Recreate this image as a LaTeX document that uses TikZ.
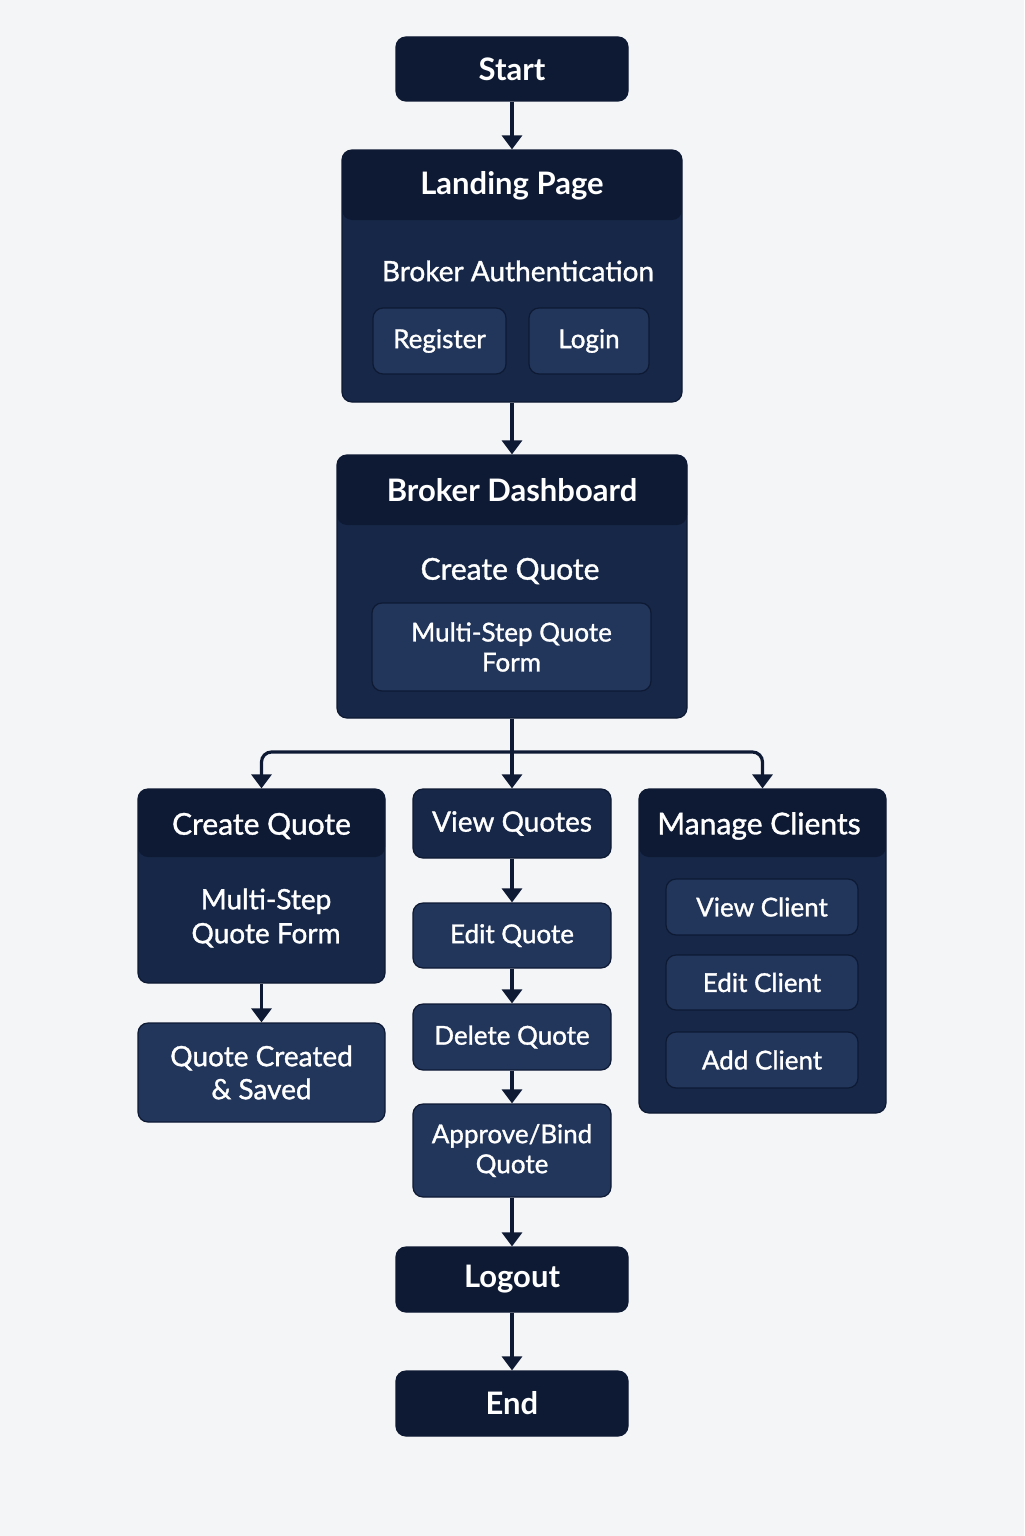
\documentclass[tikz,border=0pt]{standalone}
\usepackage{fontspec}
\setmainfont{Lato}
\newfontfamily\medfont[FakeBold=1.2]{Lato}
\usetikzlibrary{arrows.meta}
\definecolor{bgc}{HTML}{F4F5F7}
\definecolor{darkc}{HTML}{0E1A34}
\definecolor{midc}{HTML}{172747}
\definecolor{lightc}{HTML}{22355A}
\tikzset{
  box/.style={rounded corners=5pt, draw=darkc, line width=0.6pt, text=white, align=center, inner sep=0pt},
  darkbox/.style={box, fill=darkc, font=\fontsize{15.5}{18}\selectfont\bfseries},
  midbox/.style={box, fill=midc, font=\fontsize{14}{16}\selectfont\medfont},
  lightbox/.style={box, fill=lightc, font=\fontsize{13}{15}\selectfont\medfont},
  container/.style={box, fill=midc, path picture={\fill[darkc] (path picture bounding box.north west) rectangle ([yshift=-#1]path picture bounding box.north east);}},
  titletext/.style={text=white, font=\fontsize{15.5}{18}\selectfont\bfseries, inner sep=0pt},
  subtext/.style={text=white, font=\fontsize{14}{17}\selectfont\medfont, inner sep=0pt, align=center},
  arr/.style={draw=darkc, line width=1.6pt, -{Triangle[width=10pt,length=7pt]}},
}
\begin{document}
\begin{tikzpicture}[x=0.5pt,y=-0.5pt]
\fill[bgc] (0,0) rectangle (1024,1536);
\useasboundingbox (0,0) rectangle (1024,1536);

% top
\node[darkbox, minimum width=116pt, minimum height=32pt] (start) at (512,69) {Start};

\node[container=35pt, minimum width=170pt, minimum height=126pt] (landing) at (512,276) {};
\node[titletext] (landingt) at (512,186) {Landing Page};
\node[subtext] (auth) at (518,271) {Broker Authentication};
\node[lightbox, minimum width=66.5pt, minimum height=33pt] (register) at (439.5,341) {Register};
\node[lightbox, minimum width=60pt, minimum height=33pt] (login) at (589,341) {Login};

\node[container=35pt, minimum width=175pt, minimum height=131.5pt] (dash) at (512,586.5) {};
\node[titletext] (dasht) at (512,490) {Broker Dashboard};
\node[subtext, font=\fontsize{15}{18}\selectfont\medfont] (dashcq) at (510,571) {Create Quote};
\node[lightbox, minimum width=139.5pt, minimum height=44pt] (dashform) at (511.5,647) {Multi-Step Quote\\Form};

% left column
\node[container=34pt, minimum width=123.5pt, minimum height=97pt] (cq) at (261.5,886) {};
\node[titletext, font=\fontsize{15}{18}\selectfont\medfont] (cqt) at (261.5,826) {Create Quote};
\node[subtext, font=\fontsize{14}{17}\selectfont\medfont] (cqform) at (266,918) {Multi-Step\\Quote Form};
\node[lightbox, font=\fontsize{14}{16.5}\selectfont\medfont, minimum width=123.5pt, minimum height=49.5pt] (saved) at (261.5,1072.5) {Quote Created\\\& Saved};

% middle column
\node[midbox, minimum width=99pt, minimum height=34.5pt] (vq) at (512,823.5) {View Quotes};
\node[lightbox, minimum width=99pt, minimum height=32.5pt] (eq) at (512,935.5) {Edit Quote};
\node[lightbox, minimum width=99pt, minimum height=33pt] (dq) at (512,1037) {Delete Quote};
\node[lightbox, minimum width=99pt, minimum height=46.5pt] (aq) at (512,1150.5) {Approve/Bind\\Quote};

% right column
\node[container=34pt, minimum width=123.5pt, minimum height=162pt] (mc) at (762.5,951) {};
\node[titletext, font=\fontsize{15}{18}\selectfont\medfont] (mct) at (759,826) {Manage Clients};
\node[lightbox, minimum width=96pt, minimum height=28pt] (vc) at (762,907) {View Client};
\node[lightbox, minimum width=96pt, minimum height=27.5pt] (ec) at (762,982.5) {Edit Client};
\node[lightbox, minimum width=96pt, minimum height=28pt] (ac) at (762,1060) {Add Client};

% bottom
\node[darkbox, minimum width=116pt, minimum height=32.5pt] (logout) at (512,1279.5) {Logout};
\node[darkbox, minimum width=116pt, minimum height=32.5pt] (end) at (512,1403.5) {End};

\coordinate (jn) at (512,752);

% connectors
\draw[arr] (start) -- (landing);
\draw[arr] (landing) -- (dash);
\draw[darkc, line width=1.6pt] (dash.south) -- (jn);
\draw[arr] (jn) -- (vq);
\draw[arr, rounded corners=5pt] (jn) -| (cq.north);
\draw[arr, rounded corners=5pt] (jn) -| (mc.north);
\draw[arr] (cq) -- (saved);
\draw[arr] (vq) -- (eq);
\draw[arr] (eq) -- (dq);
\draw[arr] (dq) -- (aq);
\draw[arr] (aq) -- (logout);
\draw[arr] (logout) -- (end);
\end{tikzpicture}
\end{document}
